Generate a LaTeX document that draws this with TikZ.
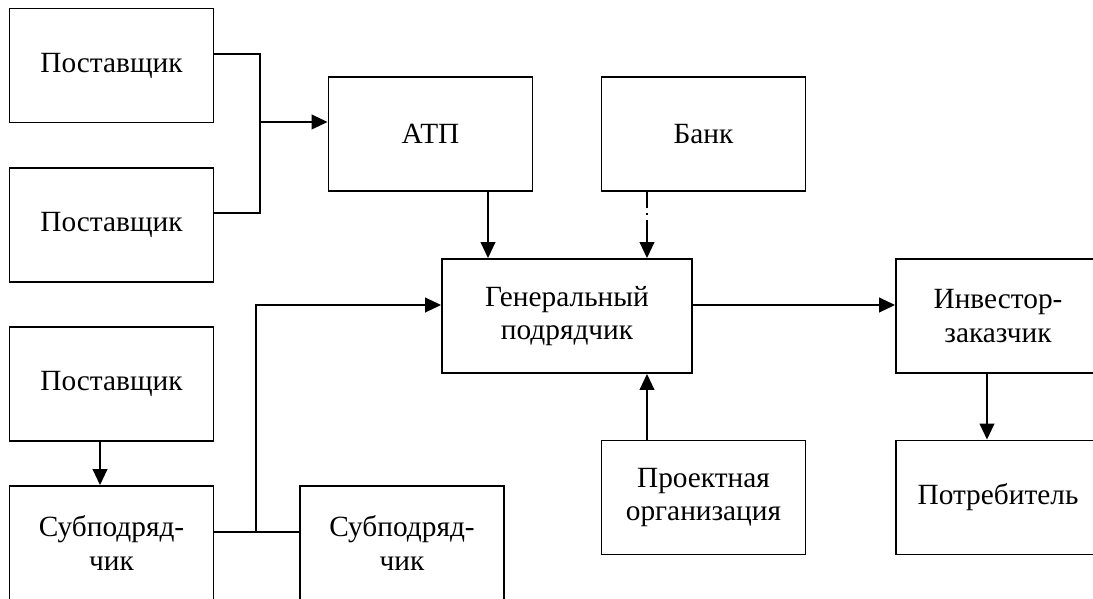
\documentclass[tikz,border=0pt]{standalone}
\usepackage{fontspec}
\setmainfont{Liberation Serif}
\usetikzlibrary{arrows.meta}
\tikzset{
  box/.style={draw, line width=1.4pt, rectangle, minimum width=153pt, minimum height=85.5pt,
    inner sep=0pt, align=center, font=\fontsize{22}{25}\selectfont},
  wide/.style={box, minimum width=187.5pt},
  link/.style={line width=1.4pt},
  arr/.style={link, -{Triangle[length=12pt, width=11pt]}},
  dashdot/.style={dash pattern=on 19.5pt off 3.75pt on 1.5pt off 3.75pt, dash phase=7.5pt}
}
\begin{document}
\begin{tikzpicture}[x=0.75pt, y=-0.75pt]
\useasboundingbox (0,0) rectangle (1093,599);
\clip (0,0) rectangle (1093,599);
\fill[white] (0,0) rectangle (1093,599);

% blocks
\node[box] (p1) at (111.5,65.5) {Поставщик};
\node[box] (p2) at (111.5,225) {Поставщик};
\node[box] (p3) at (111.5,384) {Поставщик};
\node[box] (s1) at (111.5,543) {Субподряд-\\чик};
\node[box] (s2) at (402,543) {Субподряд-\\чик};
\node[box] (atp) at (430.5,134) {АТП};
\node[box] (bank) at (703.5,134) {Банк};
\node[wide] (gen) at (567,316) {Генеральный\\подрядчик};
\node[box] (proj) at (703.5,497.5) {Проектная\\организация};
\node[box] (inv) at (998,316) {Инвестор-\\заказчик};
\node[box] (potr) at (998,497.5) {Потребитель};

% connector columns and rows
\coordinate (j1) at (260,122);
\coordinate (j2) at (256,532);
\coordinate (rowA) at (0,54);
\coordinate (rowB) at (0,213);
\coordinate (rowG) at (0,305);
\coordinate (xa) at (488,0);
\coordinate (xb) at (647,0);
\coordinate (xp) at (100,0);
\coordinate (xi) at (987,0);

% suppliers to the transport company
\draw[link] (p1.east |- rowA) -| (j1) |- (p2.east |- rowB);
\draw[arr] (j1) -- (j1 -| atp.west);

% into the general contractor
\draw[arr] (atp.south -| xa) -- (gen.north -| xa);
\draw[arr, dashdot] (bank.south -| xb) -- (gen.north -| xb);
\draw[arr] (proj.north -| xb) -- (gen.south -| xb);

% subcontractors
\draw[arr] (p3.south -| xp) -- (s1.north -| xp);
\draw[link] (s1.east |- j2) -- (s2.west |- j2);
\draw[arr] (j2) |- (gen.west |- rowG);

% towards the investor and the consumer
\draw[arr] (gen.east |- rowG) -- (inv.west |- rowG);
\draw[arr] (inv.south -| xi) -- (potr.north -| xi);
\end{tikzpicture}
\end{document}
